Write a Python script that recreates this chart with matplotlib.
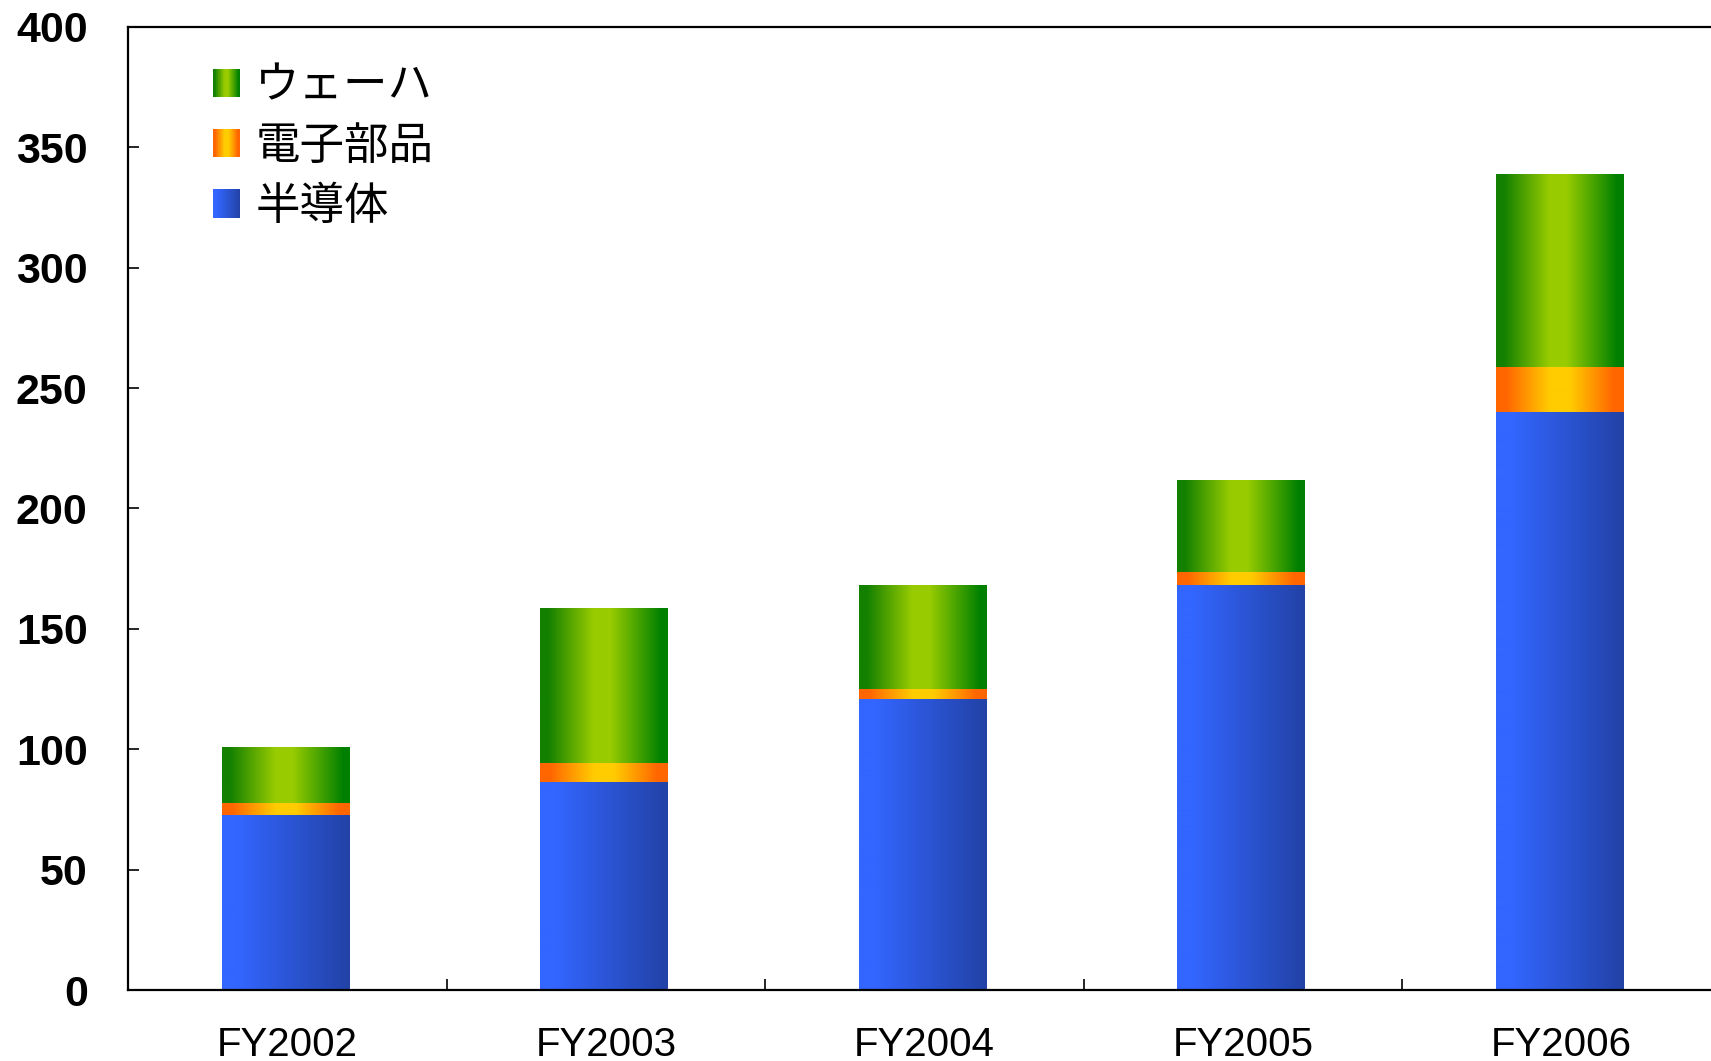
import numpy as np
import matplotlib
matplotlib.use("Agg")
import matplotlib.pyplot as plt
from matplotlib.colors import LinearSegmentedColormap
from matplotlib.patches import Patch, Rectangle
from matplotlib.legend_handler import HandlerBase
from matplotlib.ticker import FixedLocator, NullFormatter

# Sales by segment (stacked)
years = ["FY2002", "FY2003", "FY2004", "FY2005", "FY2006"]
semiconductor = [72.7, 86.4, 120.9, 168.2, 240.1]
electronic_parts = [5.0, 7.9, 4.1, 5.4, 18.7]
wafer = [23.2, 64.0, 42.8, 38.2, 80.1]
series_labels = ["半導体", "電子部品", "ウェーハ"]
yticks = [0, 50, 100, 150, 200, 250, 300, 350, 400]

# Horizontal shading across each bar segment
cmap_blue = LinearSegmentedColormap.from_list(
    "blue", [(0, "#3366FF"), (0.12, "#3366FF"), (1, "#2242A6")])
cmap_orange = LinearSegmentedColormap.from_list(
    "orange", [(0, "#FF6600"), (0.08, "#FF6600"), (0.42, "#FFCC00"),
               (0.58, "#FFCC00"), (0.92, "#FF6600"), (1, "#FF6600")])
cmap_green = LinearSegmentedColormap.from_list(
    "green", [(0, "#138000"), (0.06, "#138000"), (0.42, "#99CC00"),
              (0.55, "#99CC00"), (0.95, "#008000"), (1, "#008000")])

fig = plt.figure(figsize=(17.11, 10.61), dpi=100)
ax = fig.add_axes([128 / 1711, 71 / 1061, 1593 / 1711, 963 / 1061])

x = np.arange(len(years))
width = 0.4
semi = np.array(semiconductor)
elec = np.array(electronic_parts)
waf = np.array(wafer)

stacks = [
    (semi, np.zeros_like(semi), cmap_blue),
    (elec, semi, cmap_orange),
    (waf, semi + elec, cmap_green),
]

grad = np.linspace(0, 1, 256)[np.newaxis, :]
for values, bottom, cmap in stacks:
    bars = ax.bar(x - 0.006, values, width, bottom=bottom, facecolor="none",
                  edgecolor="none", zorder=2)
    for p in bars.patches:
        x0, y0 = p.get_x(), p.get_y()
        ax.imshow(grad, cmap=cmap, aspect="auto", interpolation="bilinear",
                  extent=[x0, x0 + p.get_width(), y0, y0 + p.get_height()],
                  zorder=2)

ax.set_xlim(-0.5, len(years) - 0.5)
ax.set_ylim(0, 400)

# Axes styling
for side in ("left", "bottom", "top"):
    ax.spines[side].set_linewidth(1.6)
ax.spines["right"].set_visible(False)

ax.set_xticks(x)
ax.set_xticklabels(years, fontsize=29, fontfamily="Liberation Sans")
ax.xaxis.set_minor_locator(FixedLocator(x[:-1] + 0.5))
ax.xaxis.set_minor_formatter(NullFormatter())
ax.tick_params(axis="x", which="major", length=0, pad=26)
ax.tick_params(axis="x", which="minor", direction="in", length=8, width=1.2)

ax.set_yticks(yticks)
ax.set_yticklabels([str(v) for v in yticks], fontsize=31,
                   fontfamily="Liberation Sans", fontweight="bold")
ax.tick_params(axis="y", direction="in", length=8, width=1.2, pad=29)


class GradientSwatch(HandlerBase):
    def __init__(self, cmap):
        super().__init__()
        self.cmap = cmap

    def create_artists(self, legend, orig_handle, xdescent, ydescent,
                       width, height, fontsize, trans):
        n = 40
        out = []
        for i in range(n):
            out.append(Rectangle((-xdescent + width * i / n, -ydescent),
                                 width / n * 1.02, height,
                                 facecolor=self.cmap((i + 0.5) / n),
                                 edgecolor="none", transform=trans))
        return out


handles = [Patch(label=series_labels[2]), Patch(label=series_labels[1]),
           Patch(label=series_labels[0])]
cmaps = [cmap_green, cmap_orange, cmap_blue]
ax.legend(handles=handles,
          handler_map={h: GradientSwatch(c) for h, c in zip(handles, cmaps)},
          loc="upper left", bbox_to_anchor=(0.0534, 0.963), frameon=False,
          borderpad=0, borderaxespad=0, handlelength=0.61, handleheight=0.61,
          handletextpad=0.34, labelspacing=0.32,
          prop={"family": ["Noto Sans CJK JP", "DejaVu Sans"], "size": 32})

fig.savefig("out.png", dpi=100)
